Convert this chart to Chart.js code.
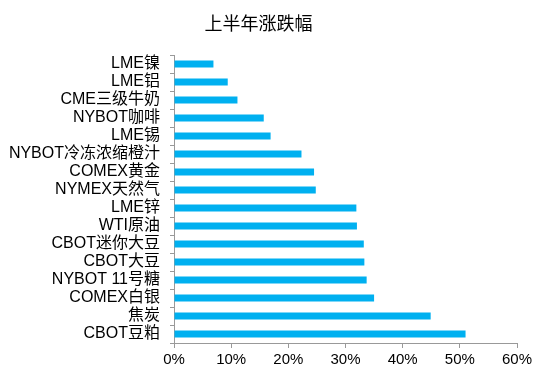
<!DOCTYPE html>
<html><head><meta charset="utf-8">
<script src="https://cdn.jsdelivr.net/npm/chart.js@4"></script>
<style>html,body{margin:0;padding:0;background:#fff}#wrap{width:550px;height:378px}</style>
</head><body><div id="wrap"><canvas id="c" width="550" height="378"></canvas></div>
<script>
const categories = ["LME镍","LME铝","CME三级牛奶","NYBOT咖啡","LME锡","NYBOT冷冻浓缩橙汁","COMEX黄金","NYMEX天然气","LME锌","WTI原油","CBOT迷你大豆","CBOT大豆","NYBOT 11号糖","COMEX白银","焦炭","CBOT豆粕"];
const changes = [6.9, 9.4, 11.1, 15.7, 16.9, 22.3, 24.5, 24.8, 31.9, 32.0, 33.2, 33.3, 33.7, 35.0, 44.9, 51.0];
const xTicks = [0, 10, 20, 30, 40, 50, 60];
const titleText = "上半年涨跌幅";
const FONT = "'Liberation Sans', Arial, 'Noto Sans CJK SC', sans-serif";

new Chart(document.getElementById('c'), {
  type: 'bar',
  data: { labels: categories, datasets: [{ data: changes, backgroundColor: '#00B0F0', barPercentage: 0.5, categoryPercentage: 0.8 }] },
  options: {
    indexAxis: 'y', responsive: false, animation: false,
    layout: { padding: { left: 0, right: 33, top: 8, bottom: 0 } },
    plugins: {
      legend: { display: false }, tooltip: { enabled: false },
      title: { display: true, text: titleText, color: '#000', font: { family: "'Noto Sans CJK SC', sans-serif", size: 18, weight: 'normal', lineHeight: 1.2 }, padding: { top: 4, bottom: 21.4 } }
    },
    scales: {
      x: {
        min: 0, max: 60,
        afterBuildTicks: s => { s.ticks = xTicks.map(v => ({ value: v })); },
        ticks: { callback: v => v + '%', color: '#000', font: { family: FONT, size: 15 }, padding: 3, maxRotation: 0 },
        grid: { drawOnChartArea: false, drawTicks: true, tickLength: 5, color: '#999' },
        border: { color: '#999' },
        afterFit: s => { s.height = 35; }
      },
      y: {
        ticks: { color: '#000', font: { family: FONT, size: 16 }, padding: 10, autoSkip: false },
        grid: { offset: true, drawOnChartArea: false, drawTicks: true, tickLength: 4, color: '#999' },
        border: { color: '#999' },
        afterFit: s => { s.width = 174; }
      }
    }
  }
});
</script></body></html>
